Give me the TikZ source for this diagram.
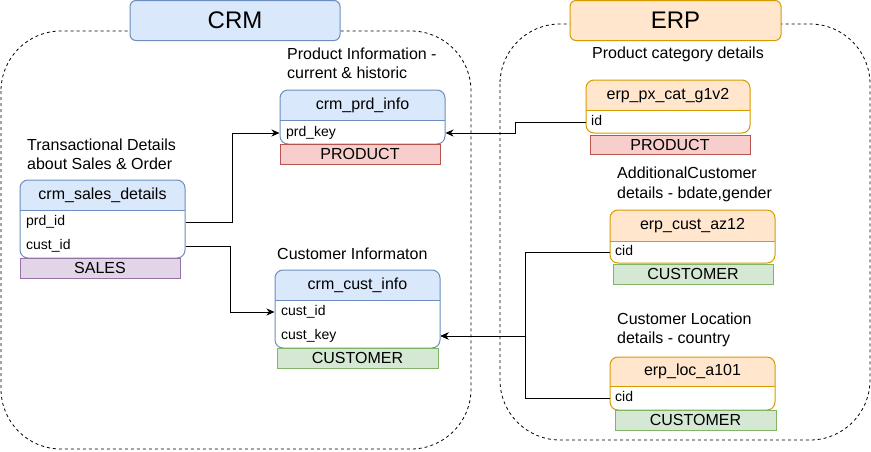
\documentclass[tikz,border=0pt]{standalone}
\usepackage{fontspec}
\setmainfont{Liberation Sans}
\usetikzlibrary{arrows.meta,calc,fit}
\definecolor{bluefill}{HTML}{DAE8FC}
\definecolor{bluedraw}{HTML}{6C8EBF}
\definecolor{orfill}{HTML}{FFE6CC}
\definecolor{ordraw}{HTML}{D79B00}
\definecolor{redfill}{HTML}{F8CECC}
\definecolor{reddraw}{HTML}{B85450}
\definecolor{grfill}{HTML}{D5E8D4}
\definecolor{grdraw}{HTML}{82B366}
\definecolor{pufill}{HTML}{E1D5E7}
\definecolor{pudraw}{HTML}{9673A6}
\tikzset{
 container/.style={draw=black, dash pattern=on 3pt off 3pt, rounded corners=60pt, line width=0.8pt},
 titlebox/.style={draw=#1, rounded corners=6pt, line width=1pt, font=\fontsize{24}{28}\selectfont, inner sep=0pt},
 tag/.style={draw=#1, line width=1pt, inner sep=0pt, font=\fontsize{16}{18}\selectfont},
 rowtext/.style={anchor=west, inner sep=0pt, text height=10.5pt, text depth=3pt, font=\fontsize{14}{16}\selectfont},
 hdrtext/.style={inner sep=0pt, text height=12pt, text depth=3.5pt, font=\fontsize{16}{18}\selectfont},
 desc/.style={anchor=west, align=left, inner sep=0pt, font=\fontsize{16}{19.5}\selectfont},
 conn/.style={draw=black, line width=1pt},
 arr/.style={conn, -{Stealth[length=8pt,width=7pt,inset=2.5pt]}},
}
% name, x1, y1, x2, y2, yh, fill, stroke, title
\newcommand\dbtable[9]{%
 \fill[#7, rounded corners=8pt] (#2,#3) rectangle (#4,#5);
 \begin{scope}
  \clip (#2,#6) rectangle (#4,#5);
  \fill[white, rounded corners=8pt] (#2,#3) rectangle (#4,#5);
 \end{scope}
 \draw[#8, line width=1pt] (#2,#6) -- (#4,#6);
 \node[draw=#8, line width=1pt, rounded corners=8pt, fit={(#2,#3) (#4,#5)}, inner sep=0pt] (#1) {};
 \node[hdrtext] (#1-title) at ($(#2,#3)!0.5!(#4,#6)$) {#9};
}
\begin{document}
\begin{tikzpicture}[x=1pt,y=-1pt]
\useasboundingbox (0,0) rectangle (871,451);
% containers
\draw[container] (1,31) rectangle (471,449);
\draw[container] (500,24) rectangle (870,440);
% titles
\node[titlebox=bluedraw, fill=bluefill, minimum width=210pt, minimum height=40pt] (crm) at (235,20.5) {CRM};
\node[titlebox=ordraw, fill=orfill, minimum width=211pt, minimum height=40pt] (erp) at (675.5,20.5) {ERP};
% descriptions
\node[desc] (d1) at (287,63.5) {Product Information -\\current \& historic};
\node[desc] (d2) at (27,154.5) {Transactional Details\\about Sales \& Order};
\node[desc] (d3) at (277,254) {Customer Informaton};
\node[desc, anchor=center] (d4) at (678,54) {Product category details};
\node[desc] (d5) at (617,184.5) {AdditionalCustomer\\details - bdate,gender};
\node[desc] (d6) at (617,330) {Customer Location\\details - country};
% tables
\dbtable{prdinfo}{280}{90}{445}{144}{120}{bluefill}{bluedraw}{crm\_prd\_info}
\node[rowtext] (prdkey) at (286,133) {prd\_key};
\dbtable{sales}{20}{180}{185}{258}{210}{bluefill}{bluedraw}{crm\_sales\_details}
\node[rowtext] (sprdid) at (26,222) {prd\_id};
\node[rowtext] (scustid) at (26,246) {cust\_id};
\dbtable{custinfo}{275}{270}{440}{348}{300}{bluefill}{bluedraw}{crm\_cust\_info}
\node[rowtext] (ccustid) at (281,312) {cust\_id};
\node[rowtext] (custkey) at (281,336) {cust\_key};
\dbtable{pxcat}{586}{80}{750}{133}{110}{orfill}{ordraw}{erp\_px\_cat\_g1v2}
\node[rowtext] (pxid) at (591,122) {id};
\dbtable{custaz}{610}{210}{775}{263}{241}{orfill}{ordraw}{erp\_cust\_az12}
\node[rowtext] (azcid) at (615,252) {cid};
\dbtable{loc}{610}{357}{775}{410}{386}{orfill}{ordraw}{erp\_loc\_a101}
\node[rowtext] (loccid) at (615,398) {cid};
% tags
\node[tag=reddraw, fill=redfill, minimum width=160pt, minimum height=20pt] (t1) at (360,154) {PRODUCT};
\node[tag=pudraw, fill=pufill, minimum width=160pt, minimum height=20pt] (t2) at (100,268) {SALES};
\node[tag=grdraw, fill=grfill, minimum width=161pt, minimum height=20pt] (t3) at (357.5,358) {CUSTOMER};
\node[tag=reddraw, fill=redfill, minimum width=160pt, minimum height=19pt] (t4) at (670,144.5) {PRODUCT};
\node[tag=grdraw, fill=grfill, minimum width=160pt, minimum height=20pt] (t5) at (693,274) {CUSTOMER};
\node[tag=grdraw, fill=grfill, minimum width=161pt, minimum height=20pt] (t6) at (695.5,420) {CUSTOMER};
% connectors
\draw[arr] (sales.east |- sprdid) -- ++(47,0) |- (prdinfo.west |- prdkey);
\draw[arr] (sales.east |- scustid) -- ++(45,0) |- (custinfo.west |- ccustid);
\draw[arr] (pxcat.west |- pxid) -- ++(-70,0) |- (prdinfo.east |- prdkey);
\draw[arr] (custaz.west |- azcid) -- ++(-84,0) |- (custinfo.east |- custkey);
\draw[arr] (loc.west |- loccid) -- ++(-84,0) |- (custinfo.east |- custkey);
\end{tikzpicture}
\end{document}
